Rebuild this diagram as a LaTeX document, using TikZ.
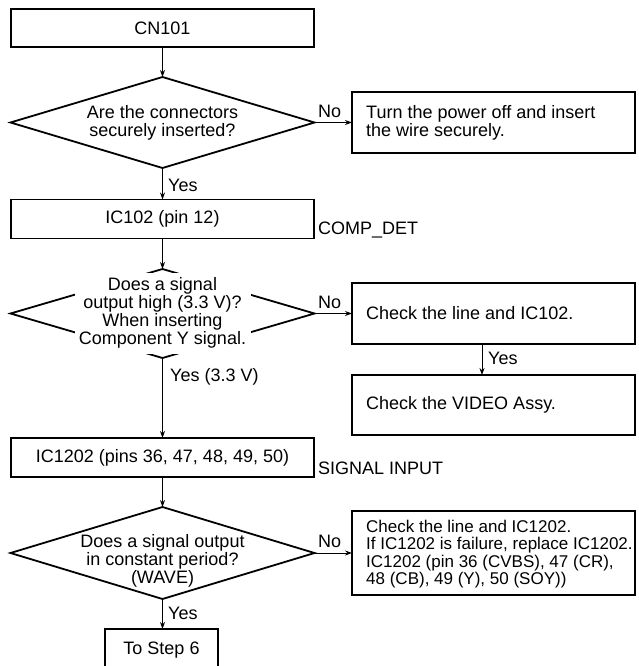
\documentclass[tikz,border=0pt]{standalone}
\usepackage{fontspec}
\setmainfont{Liberation Sans}
\usetikzlibrary{shapes.geometric,arrows.meta}
\newcommand\fsz{\fontsize{18}{18}\selectfont}
\newcommand\fszs{\fontsize{17}{17.5}\selectfont}
\begin{document}
\begin{tikzpicture}[x=1pt,y=-1pt,
  box/.style={draw,rectangle,line width=1.8pt,inner sep=0pt,outer sep=0pt,font=\fsz},
  dia/.style={draw,diamond,line width=1.8pt,inner sep=0pt,outer sep=0pt},
  txt/.style={font=\fsz,inner sep=0pt,align=center},
  ltxt/.style={font=\fsz,inner sep=0pt,align=left,anchor=west},
  arr/.style={line width=0.9pt,-{Stealth[length=7pt,width=5pt]}},
  lab/.style={font=\fsz,inner sep=0pt,anchor=west}]
\useasboundingbox (0,0) rectangle (639,666);
\clip (0,0) rectangle (639,666);
% left column
\node[box,minimum width=303pt,minimum height=38pt] (cn) at (162.5,28) {CN101};
\node[dia,minimum width=304pt,minimum height=91pt] (d1) at (162.5,122.5) {};
\node[txt] (d1t) at (162.5,123) {Are the connectors\\securely inserted?};
\node[box,minimum width=303pt,minimum height=39pt] (ic102) at (162.5,219) {IC102 (pin 12)};
\node[lab] (comp) at (318,230) {COMP\_DET};
\node[dia,minimum width=304pt,minimum height=89pt] (d2) at (162.5,313.5) {};
\node[box,minimum width=303pt,minimum height=39pt] (ic1202) at (162.5,457.5) {IC1202 (pins 36, 47, 48, 49, 50)};
\node[lab] (sig) at (318,468) {SIGNAL INPUT};
\node[dia,minimum width=304pt,minimum height=92pt] (d3) at (162.5,553) {};
\node[txt] (d3t) at (162.5,561) {Does a signal output\\in constant period?\\(WAVE)};
\node[box,minimum width=113pt,minimum height=51pt] (b6) at (161.5,654.5) {};
\node[txt] (b6t) at (161.5,650) {To Step 6};
% right column
\node[box,minimum width=283pt,minimum height=61pt] (b2) at (493.5,122.5) {};
\node[ltxt] (b2t) at (366,123) {Turn the power off and insert\\the wire securely.};
\node[box,minimum width=283pt,minimum height=61pt] (b3) at (493.5,313.5) {};
\node[ltxt] (b3t) at (366,313) {Check the line and IC102.};
\node[box,minimum width=283pt,minimum height=60pt] (b4) at (493.5,405) {};
\node[ltxt] (b4t) at (366,405) {Check the VIDEO Assy.};
\node[box,minimum width=283pt,minimum height=84pt] (b5) at (493.5,553) {};
\node[ltxt,font=\fszs] (b5t) at (366,554) {Check the line and IC1202.\\If IC1202 is failure, replace IC1202.\\IC1202 (pin 36 (CVBS), 47 (CR),\\48 (CB), 49 (Y), 50 (SOY))};
% connectors
\draw[arr] (cn) -- (d1);
\draw[arr] (d1) -- (ic102);
\draw[arr] (d1.east) -- (b2.west);
\draw[arr] (ic102) -- (d2);
\draw[arr] (d2.east) -- (b3.west);
\draw[arr] (d2) -- (ic1202);
\draw[arr] ([xshift=-11.5pt]b3.south) -- ([xshift=-11.5pt]b4.north);
\draw[arr] (ic1202) -- (d3);
\draw[arr] (d3.east) -- (b5.west);
\draw[arr] (d3.south) -- (d3.south |- b6.north);
\node[txt,fill=white,minimum width=176pt,minimum height=81pt] (d2t) at (162.5,313) {Does a signal\\output high (3.3 V)?\\When inserting\\Component Y signal.};
% labels
\node[lab] (n1) at (318,111) {No};
\node[lab] (n2) at (318,302) {No};
\node[lab] (n3) at (318,541) {No};
\node[lab] (y1) at (168,185) {Yes};
\node[lab] (y2) at (170,377) {Yes (3.3 V)};
\node[lab] (y3) at (488,358) {Yes};
\node[lab] (y4) at (168,613) {Yes};
\end{tikzpicture}
\end{document}
